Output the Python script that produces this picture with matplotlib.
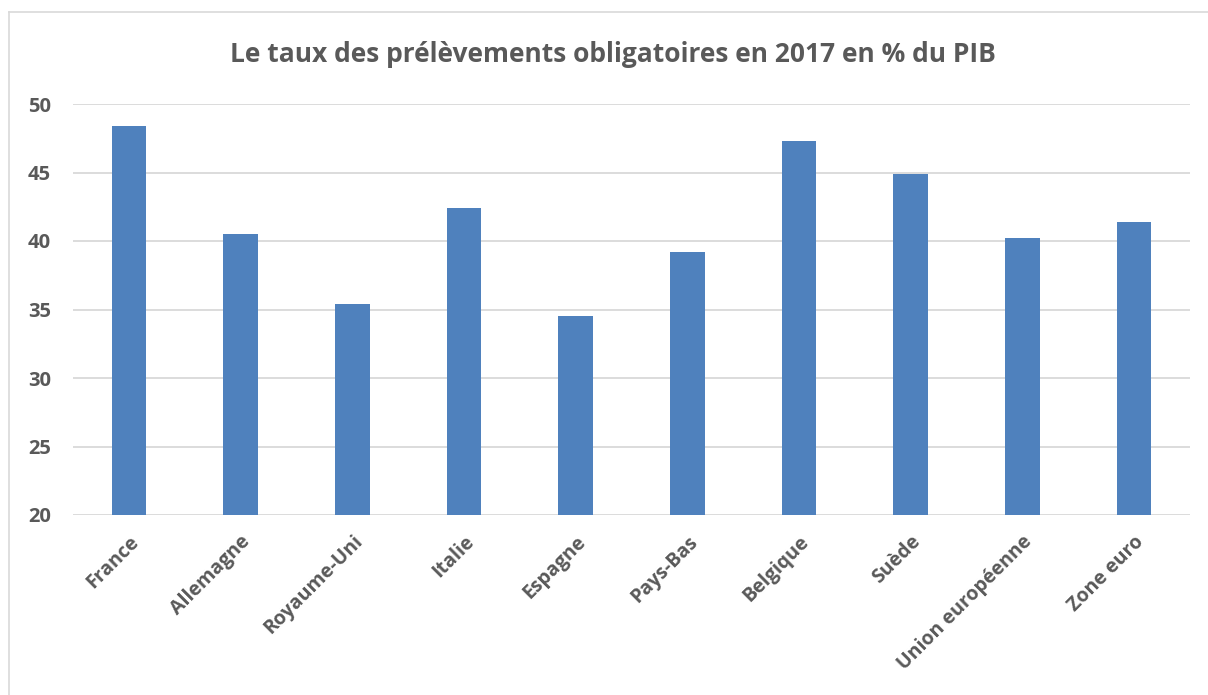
import matplotlib.pyplot as plt
from matplotlib.lines import Line2D

pays = ["France", "Allemagne", "Royaume-Uni", "Italie", "Espagne",
        "Pays-Bas", "Belgique", "Suède", "Union européenne", "Zone euro"]
taux = [48.4, 40.5, 35.4, 42.4, 34.5, 39.2, 47.3, 44.9, 40.2, 41.4]

plt.rcParams["font.family"] = ["Open Sans", "DejaVu Sans"]
gris = "#595959"

fig = plt.figure(figsize=(12.08, 6.95), dpi=100)
W, H = 1208, 695
ax = fig.add_axes([73 / W, 1 - 515 / H, (1190 - 73) / W, (515 - 104) / H])

x = range(len(pays))
ax.bar(x, taux, width=0.31, color="#4F81BD", zorder=3)

ax.set_ylim(20, 50)
ax.set_xlim(-0.5, len(pays) - 0.5)
ax.set_yticks(range(20, 51, 5))
ax.grid(axis="y", color="#D9D9D9", linewidth=1.3, zorder=0)
for s in ax.spines.values():
    s.set_visible(False)
ax.tick_params(length=0)
ax.tick_params(axis="y", pad=16, labelsize=14.5, labelcolor=gris)
ax.set_xticks(list(x))
ax.set_xticklabels(pays, rotation=45, ha="right", rotation_mode="anchor",
                   fontsize=14, color=gris, fontweight="bold")
for lab in ax.get_yticklabels():
    lab.set_fontweight("bold")
ax.tick_params(axis="x", pad=12)

fig.text(613 / W, 1 - 55 / H,
         "Le taux des prélèvements obligatoires en 2017 en % du PIB",
         ha="center", va="center", fontsize=19, fontweight="bold", color=gris)

# chart frame
fig.add_artist(Line2D([9 / W, 9 / W], [0, 1 - 12 / H], transform=fig.transFigure,
                      color="#D9D9D9", linewidth=1.2))
fig.add_artist(Line2D([9 / W, 1], [1 - 12 / H, 1 - 12 / H], transform=fig.transFigure,
                      color="#D9D9D9", linewidth=1.2))

fig.savefig("out.png", dpi=100)
